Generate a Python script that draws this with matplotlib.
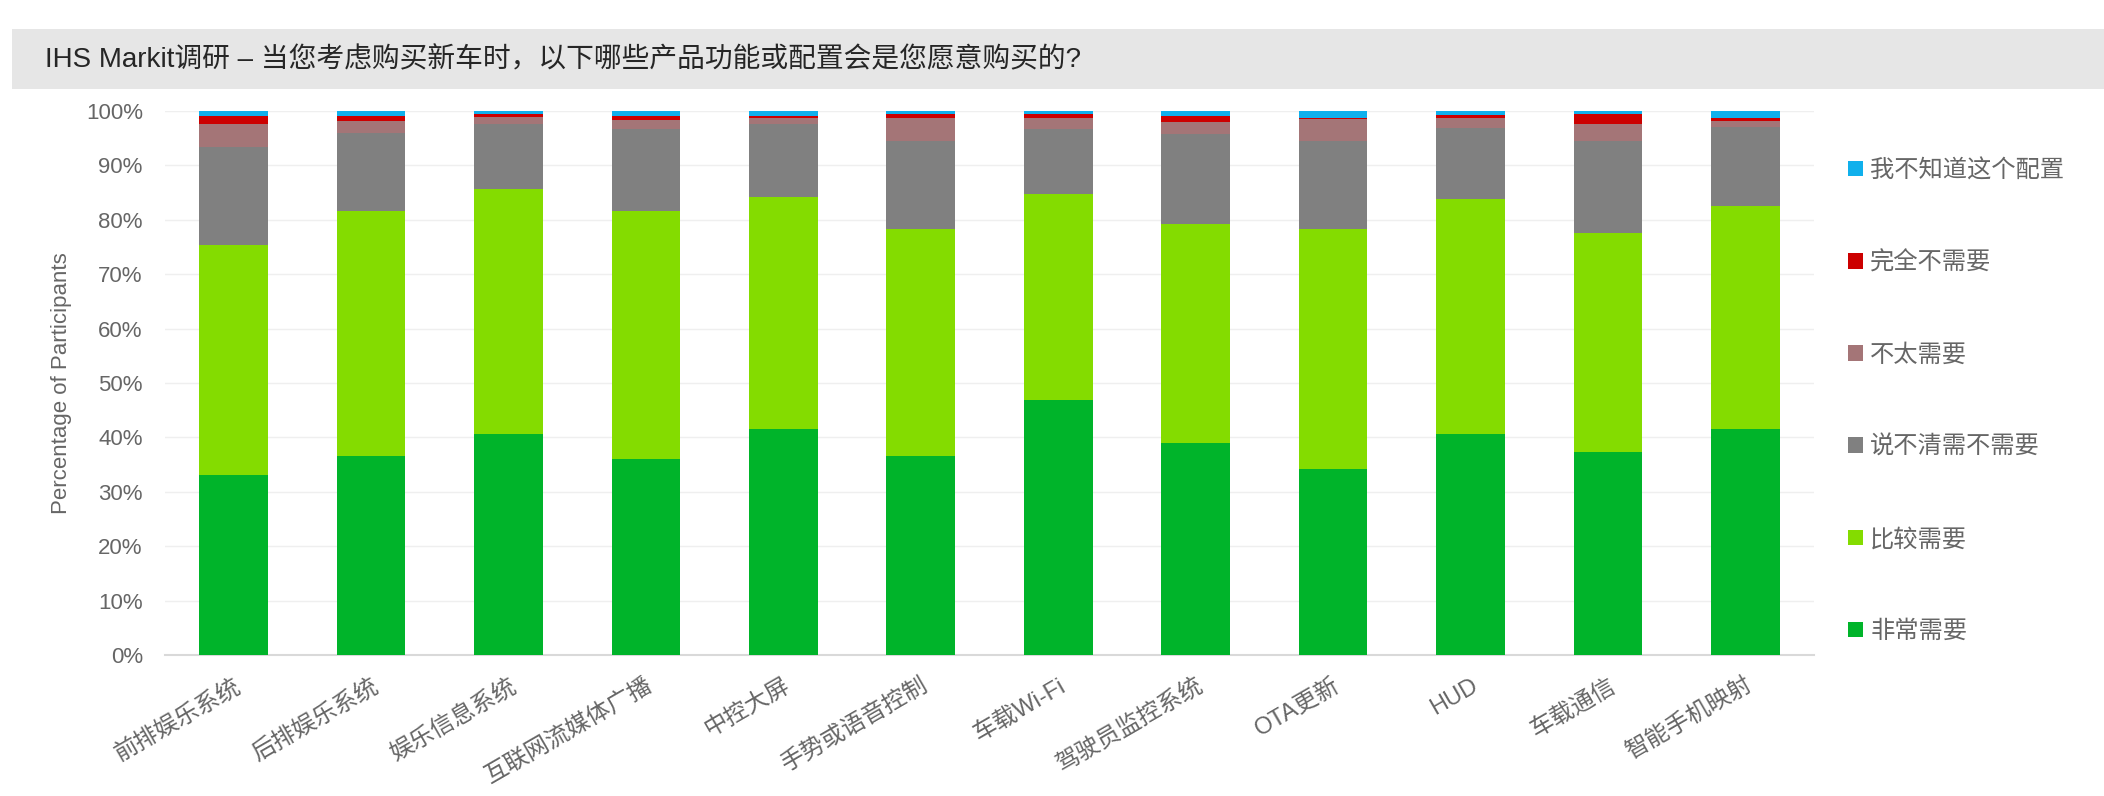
import matplotlib
matplotlib.use("Agg")
import matplotlib.pyplot as plt
from matplotlib.patches import Rectangle, Patch
import numpy as np

plt.rcParams['font.family'] = ['Liberation Sans', 'Noto Sans CJK SC']

categories = ["前排娱乐系统", "后排娱乐系统", "娱乐信息系统", "互联网流媒体广播", "中控大屏",
              "手势或语音控制", "车载Wi-Fi", "驾驶员监控系统", "OTA更新", "HUD", "车载通信", "智能手机映射"]

very_need = [33.1, 36.5, 40.7, 36.0, 41.5, 36.5, 46.9, 39.0, 34.1, 40.7, 37.3, 41.5]
need = [42.2, 45.2, 45.0, 45.7, 42.7, 41.8, 37.8, 40.3, 44.2, 43.2, 40.2, 41.0]
unsure = [18.1, 14.2, 11.9, 14.9, 13.5, 16.2, 11.9, 16.5, 16.2, 12.9, 17.0, 14.6]
not_much = [4.3, 2.3, 1.3, 1.7, 1.0, 4.2, 2.2, 2.1, 4.0, 2.0, 3.1, 1.1]
not_at_all = [1.4, 0.9, 0.5, 0.8, 0.4, 0.7, 0.6, 1.2, 0.3, 0.5, 1.8, 0.6]
dont_know = [0.9, 0.9, 0.6, 0.9, 0.9, 0.6, 0.6, 0.9, 1.2, 0.7, 0.6, 1.2]

series = [("非常需要", very_need, "#00B42A"),
          ("比较需要", need, "#84DC00"),
          ("说不清需不需要", unsure, "#808080"),
          ("不太需要", not_much, "#A47577"),
          ("完全不需要", not_at_all, "#CC0000"),
          ("我不知道这个配置", dont_know, "#10B0EC")]

fig = plt.figure(figsize=(21.04, 7.96), dpi=100)

# title band
fig.patches.append(Rectangle((12 / 2104, 1 - 89 / 796), 1, 60 / 796, transform=fig.transFigure,
                             facecolor="#E6E6E6", edgecolor="none", zorder=0))
fig.text(45 / 2104, 1 - 60 / 796, "IHS Markit调研 – 当您考虑购买新车时，以下哪些产品功能或配置会是您愿意购买的?",
         fontsize=20, color="#262626", va="center", ha="left")

ax = fig.add_axes([165 / 2104, 1 - 655 / 796, 1649 / 2104, 544 / 796])
x = np.arange(len(categories))
bottom = np.zeros(len(categories))
for name, vals, col in series:
    ax.bar(x, vals, 0.5, bottom=bottom, color=col, label=name, zorder=3)
    bottom += np.array(vals)

ax.set_xlim(-0.5, len(categories) - 0.5)
ax.set_ylim(0, 100)
ax.set_yticks(np.arange(0, 101, 10))
ax.set_yticklabels([f"{v}%" for v in range(0, 101, 10)], fontsize=16, color="#666666")
ax.set_xticks(x)
ax.set_xticklabels(categories, rotation=30, ha="right", rotation_mode="anchor",
                   fontsize=17, color="#666666")
ax.tick_params(axis="both", length=0)
ax.tick_params(axis="y", pad=16)
ax.tick_params(axis="x", pad=14)
ax.grid(axis="y", color="#EFEFEF", linewidth=1, zorder=0)
for s in ["top", "right", "left"]:
    ax.spines[s].set_visible(False)
ax.spines["bottom"].set_color("#D9D9D9")
ax.spines["bottom"].set_linewidth(1.5)
ax.set_ylabel("Percentage of Participants", fontsize=16, color="#666666", labelpad=10)

handles = [Patch(facecolor=c, edgecolor="none") for _, _, c in series][::-1]
labels = [n for n, _, _ in series][::-1]
fig.legend(handles, labels, loc="center left", bbox_to_anchor=(1826 / 2104, 1 - 401 / 796),
           frameon=False, fontsize=17.5, labelcolor="#666666", handlelength=0.62, handleheight=0.62,
           handletextpad=0.3, labelspacing=2.85)

fig.savefig("out.png", dpi=100)
